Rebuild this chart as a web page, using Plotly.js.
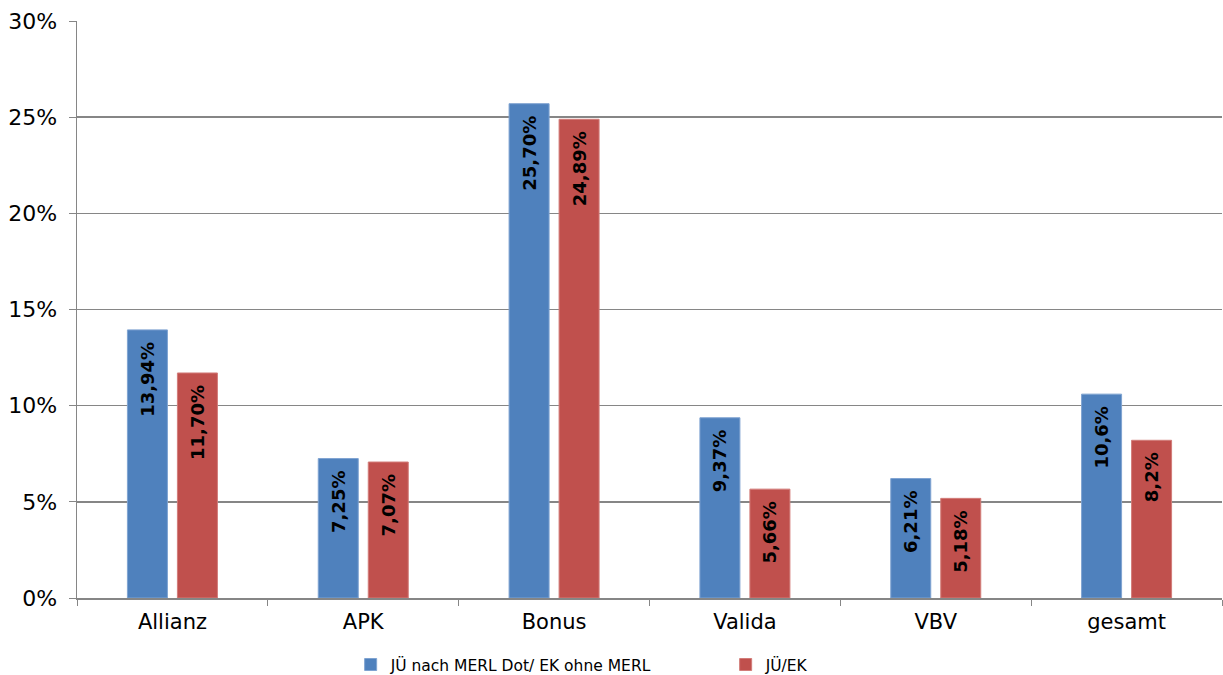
<!DOCTYPE html>
<html>
<head>
<meta charset="utf-8">
<script src="https://cdn.plot.ly/plotly-3.0.1.min.js"></script>
<style>html,body{margin:0;padding:0;background:#fff;}#chart{width:1223px;height:675px;}</style>
</head>
<body>
<div id="chart"></div>
<script>
const categories = ["Allianz", "APK", "Bonus", "Valida", "VBV", "gesamt"];
const seriesNames = ["JÜ nach MERL Dot/ EK ohne MERL", "JÜ/EK"];
const seriesA = [13.94, 7.25, 25.70, 9.37, 6.21, 10.6];
const seriesB = [11.70, 7.07, 24.89, 5.66, 5.18, 8.2];
const decimalsA = [2, 2, 2, 2, 2, 1];
const decimalsB = [2, 2, 2, 2, 2, 1];
const yTickVals = [0, 5, 10, 15, 20, 25, 30];
const yTickText = ["0%", "5%", "10%", "15%", "20%", "25%", "30%"];

const fmt = (v, d) => v.toFixed(d).replace(".", ",") + "%";
const FONT = "DejaVu Sans, Verdana, sans-serif";

function barTrace(name, vals, decs, color, lineColor) {
  return {
    type: "bar",
    name: name,
    x: categories,
    y: vals,
    text: vals.map((v, i) => fmt(v, decs[i]) + "\u2002"),
    textposition: "inside",
    insidetextanchor: "end",
    textangle: -90,
    textfont: {family: FONT, size: 18, color: "#000", weight: "bold"},
    constraintext: "none",
    marker: {color: color, line: {color: lineColor, width: 1}},
    hoverinfo: "skip"
  };
}

const data = [
  barTrace(seriesNames[0], seriesA, decimalsA, "#4F81BD", "#7fa3d1"),
  barTrace(seriesNames[1], seriesB, decimalsB, "#C0504D", "#d27c79")
];

const layout = {
  width: 1223, height: 675,
  margin: {l: 77, r: 1, t: 21, b: 77, autoexpand: false},
  paper_bgcolor: "#fff", plot_bgcolor: "#fff",
  font: {family: FONT, color: "#000"},
  barmode: "group",
  bargap: 0.476,
  bargroupgap: 0.2,
  showlegend: true,
  legend: {
    orientation: "h",
    x: 0.239, xanchor: "left",
    y: -0.116, yanchor: "middle",
    font: {family: FONT, size: 15.5, color: "#000"},
    entrywidth: 330,
    itemwidth: 30,
    traceorder: "normal"
  },
  xaxis: {
    type: "category",
    automargin: false,
    showline: true, linecolor: "#868686", linewidth: 1.5,
    ticks: "outside", tickson: "boundaries", ticklen: 6, tickcolor: "#868686",
    ticklabelstandoff: 4,
    tickfont: {family: FONT, size: 21, color: "#000"},
    showgrid: false,
    fixedrange: true
  },
  yaxis: {
    range: [0, 30],
    automargin: false,
    tickvals: yTickVals, ticktext: yTickText,
    showline: true, linecolor: "#868686", linewidth: 1.5,
    ticks: "outside", ticklen: 7, tickcolor: "#868686",
    ticklabelstandoff: 7,
    showgrid: true, gridcolor: "#868686", gridwidth: 1.5,
    zeroline: false,
    tickfont: {family: FONT, size: 22, color: "#000"},
    fixedrange: true
  }
};

Plotly.newPlot("chart", data, layout, {displayModeBar: false, staticPlot: true});
</script>
</body>
</html>
